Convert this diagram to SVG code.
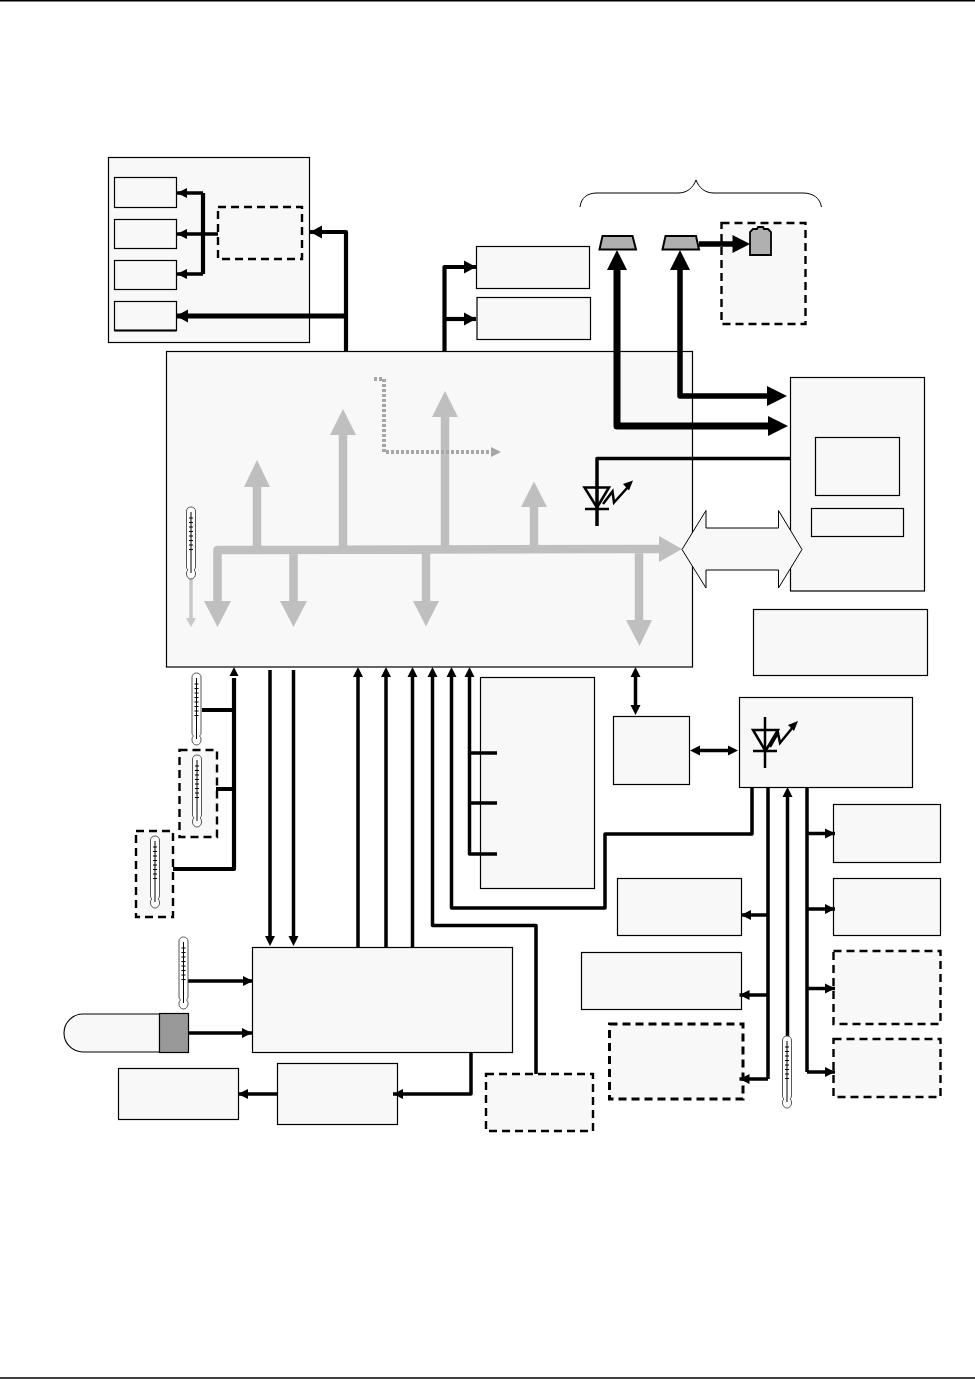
<svg xmlns="http://www.w3.org/2000/svg" width="975" height="1379" viewBox="0 0 975 1379">
<style>
.b{fill:#f8f8f8;stroke:#000;stroke-width:1.2}
.d{fill:#f8f8f8;stroke:#000;stroke-width:2.4;stroke-dasharray:8 5}
.c{fill:none;stroke:#000;stroke-linejoin:round}
.w3{stroke-width:3.5}
.w4{stroke-width:4.2}
.g{fill:none;stroke:#bfbfbf;stroke-width:8.5;stroke-linejoin:round}
.gh{fill:#bfbfbf}
.sym{fill:none;stroke:#000;stroke-width:2.5}
</style>
<defs>
<marker id="a" markerUnits="userSpaceOnUse" markerWidth="12" markerHeight="12" refX="10" refY="6" orient="auto"><path d="M0,1 L10,6 L0,11Z" fill="#000"/></marker>
<marker id="am" markerUnits="userSpaceOnUse" markerWidth="14" markerHeight="16" refX="12" refY="8" orient="auto"><path d="M0,1.500 L12,8 L0,14.500Z" fill="#000"/></marker>
<g id="therm">
<path d="M-4.500,4 a4.500,4 0 0 1 9,0 V60 q0,2 -1.500,3 q1.500,1 1.500,3 v1 a4.500,5 0 0 1 -9,0 v-1 q0,-2 1.500,-3 q-1.500,-1 -1.500,-3Z" fill="#fff" stroke="#444" stroke-width="0.9"/>
<path d="M0,5V66M-2,11h4M-2,15.500h4M-2,20h4M-2,24.500h4M-2,29h4M-2,33.500h4M-2,38h4M-2,42.500h4" fill="none" stroke="#000" stroke-width="1"/>
</g>
</defs>
<rect width="975" height="1379" fill="#fff"/>
<path d="M0,0.700H975M0,1378H975" stroke="#000" stroke-width="1.500"/>

<g id="group-a"><rect class="b" x="108.500" y="157.500" width="201" height="185"/></g>
<g id="a1"><rect class="b" x="114.500" y="177.500" width="62" height="30"/></g>
<g id="a2"><rect class="b" x="114.500" y="219.500" width="62" height="29"/></g>
<g id="a3"><rect class="b" x="114.500" y="260.500" width="62" height="29"/></g>
<g id="a4"><rect class="b" x="114.500" y="301.500" width="62" height="29"/><path d="M114.500,330.500H176.500" stroke="#000" stroke-width="1.800"/></g>
<g id="a5"><rect class="d" x="218" y="207" width="84" height="52"/></g>
<g id="b1"><rect class="b" x="476.500" y="246.500" width="113" height="42"/></g>
<g id="b2"><rect class="b" x="477" y="297.500" width="113.500" height="42"/></g>
<g id="main"><rect class="b" x="166.500" y="351.500" width="526" height="315.500"/></g>
<g id="valve-group"><rect class="d" x="721.500" y="223" width="84" height="101"/></g>
<g id="right"><rect class="b" x="790.500" y="377.500" width="134" height="213.500"/>
<rect class="b" x="815.500" y="437.500" width="84" height="58"/>
<rect class="b" x="811.500" y="508.500" width="92" height="28"/></g>
<g id="note"><rect class="b" x="753.500" y="609.500" width="174" height="66"/></g>
<g id="c1"><rect class="b" x="480.500" y="677.500" width="114" height="211"/></g>
<g id="c2"><rect class="b" x="613.500" y="716.500" width="76" height="68"/></g>
<g id="c3"><rect class="b" x="739.500" y="697.500" width="173" height="90"/></g>
<g id="r1"><rect class="b" x="833.500" y="804.500" width="107" height="58"/></g>
<g id="r2"><rect class="b" x="833.500" y="878.500" width="107" height="57"/></g>
<g id="r3"><rect class="d" x="833.500" y="951" width="107" height="73"/></g>
<g id="r4"><rect class="d" x="833.500" y="1039" width="107" height="58"/></g>
<g id="l1"><rect class="b" x="617.500" y="878.500" width="124" height="57"/></g>
<g id="l2"><rect class="b" x="581.500" y="952.500" width="160" height="57"/></g>
<g id="l3"><rect class="d" style="stroke-width:3" x="609.500" y="1024" width="133.500" height="75"/></g>
<g id="big"><rect class="b" x="252.500" y="947.500" width="260" height="105"/></g>
<g id="e1"><rect class="b" x="118.500" y="1068.500" width="120" height="51"/></g>
<g id="e2"><rect class="b" x="277.500" y="1063.500" width="120" height="61"/></g>
<g id="e3"><rect class="d" x="486" y="1074" width="107" height="57"/></g>
<g id="lamp"><path d="M159.500,1014H83a19,19 0 0 0 0,38h76.500Z" fill="#f8f8f8" stroke="#000" stroke-width="1.100"/>
<rect x="159.500" y="1013.500" width="29" height="39" fill="#999" stroke="#000" stroke-width="1.200"/></g>
<g id="dash-t1"><rect class="d" x="179.500" y="750" width="37.500" height="87"/></g>
<g id="dash-t2"><rect class="d" x="136" y="831" width="37" height="86"/></g>
<g id="brace"><path d="M580,207C581,198 587,193 597,193H678C687,193 693,188 696,180C699,188 705,193 714,193H803C813,193 820,198 821.500,207" fill="none" stroke="#000" stroke-width="1"/></g>

<g id="bus">
<path class="g" d="M217.500,602V550L660,549M293.500,549V602M426,549V602M639,549V621M257,549V486M343,549V434M445,549V416M534,549V507"/>
<path class="gh" d="M682,549L659,536V562ZM204,601H231L217.500,627ZM280,601H307L293.500,627ZM413,601H439L426,626.500ZM626,620H652L639.500,646ZM244,487H270L257,460ZM330,435H356L343,409ZM432,417H458L445,391ZM521,507H547L534,481.500Z"/>
<path d="M191,577V620" stroke="#c8c8c8" stroke-width="3.500" fill="none"/>
<path d="M186,618H196L191,627Z" fill="#c8c8c8"/>
<path d="M374,379H384V452H492" fill="none" stroke="#a6a6a6" stroke-width="4" stroke-dasharray="3 2"/>
<path d="M491,447L501,452L491,457Z" fill="#a6a6a6"/>
</g>

<g id="connectors">
<path class="c w4" d="M203,193V274"/>
<path class="c w3" d="M203,193H177" marker-end="url(#a)"/>
<path class="c w3" d="M218,234H177" marker-end="url(#a)"/>
<path class="c w3" d="M203,274H177" marker-end="url(#a)"/>
<path class="c w4" d="M346,351V232H310" marker-end="url(#am)"/>
<path class="c" stroke-width="4.800" d="M346,316H176" marker-end="url(#am)"/>
<path class="c w4" d="M444.500,351V267H476" marker-end="url(#am)"/>
<path class="c w4" d="M444.500,319H476" marker-end="url(#am)"/>
<path class="c" stroke-width="7" d="M617,270V426H768"/>
<path d="M617,250L607,270H627ZM788,426L768,416V436Z" fill="#000"/>
<path class="c" stroke-width="5.500" d="M680,270V396H768"/>
<path d="M680,250L670,270H690ZM787,396L767,386V406Z" fill="#000"/>
<path class="c" stroke-width="5.500" d="M699,244H733"/>
<path d="M750,244L732.500,235V253Z" fill="#000"/>
<path class="c w3" d="M791,458.500H597V526"/>
<path class="c w4" d="M173,869H234V678M202,710H234M216,789H234"/>
<path d="M234,667L229.500,676H238.500Z" fill="#000"/>
<path class="c w3" d="M270,670V936M293.500,670V936"/>
<path d="M265,936H275L270,946ZM288.500,936H298.500L293.500,946Z" fill="#000"/>
<path class="c w3" d="M358,947V677M386,947V677M412.500,947V677M536,1074V925.500H432.500V677M451.500,677V908H605V834H752V787M469.500,677V854H497M470,753H497M470,803H497"/>
<path d="M358,667L353,677H363ZM386,667L381,677H391ZM412.500,667L407.500,677H417.500ZM432.500,667L427.500,677H437.500ZM451.500,667L446.500,677H456.500ZM469.500,667L464.500,677H474.500Z" fill="#000"/>
<path class="c w3" d="M635.500,675V708"/>
<path d="M635.500,667L630.500,677H640.500ZM635.500,715L630.500,705H640.500Z" fill="#000"/>
<path class="c w3" d="M698,750.500H730"/>
<path d="M690,750.500L700,745.500V755.500ZM738,750.500L728,745.500V755.500Z" fill="#000"/>
<path class="c w3" d="M768,787V1079M807,787V1072"/>
<path class="c w3" d="M768,915H741" marker-end="url(#a)"/>
<path class="c w3" d="M768,995H739.500" marker-end="url(#a)"/>
<path class="c w3" d="M768,1079H739.500" marker-end="url(#a)"/>
<path class="c w3" d="M807,833.500H835" marker-end="url(#a)"/>
<path class="c w3" d="M807,909H835" marker-end="url(#a)"/>
<path class="c w3" d="M807,988.500H835" marker-end="url(#a)"/>
<path class="c w3" d="M807,1072H835" marker-end="url(#a)"/>
<path class="c w3" d="M787.500,1040V797"/>
<path d="M787.500,787L782.500,797H792.500Z" fill="#000"/>
<path class="c w3" d="M188,981H253" marker-end="url(#a)"/>
<path class="c w3" d="M188,1033H252" marker-end="url(#a)"/>
<path class="c w3" d="M471,1052V1094H393" marker-end="url(#a)"/>
<path class="c w3" d="M277,1094H238" marker-end="url(#a)"/>
</g>

<g id="double-arrow"><path d="M682,549.500L706,510.500V528H778.500V510.500L802,549.500L778.500,588V570H706V588Z" fill="#f8f8f8" stroke="#000" stroke-width="1"/></g>
<g id="valve1"><path d="M599.500,249.500L602.500,236H632.500L636,249.500Z" fill="#b0b0b0" stroke="#000" stroke-width="2"/></g>
<g id="valve2"><path d="M662.500,249.500L665.500,236H696L699,249.500Z" fill="#b0b0b0" stroke="#000" stroke-width="2"/></g>
<g id="battery"><path d="M750,255V232L753,229H757L758,227H763L764,229H768L771,232V255Z" fill="#b0b0b0" stroke="#000" stroke-width="1.800"/></g>
<g id="led1"><path class="sym" d="M584.500,487.500H609L597,507.500ZM585,509H609"/><path class="sym" d="M603,504L612.500,491.500L614,502.500L628,487"/><path d="M633,480.500L623,484L629,490.500Z" fill="#000"/></g>
<g id="led2"><path class="sym" d="M753,730H778L765.500,751ZM753,751H777M765,717V768"/><path class="sym" d="M770,747L778,733L780,743L793,727"/><path d="M798,721L788,725L794,731Z" fill="#000"/></g>
<g id="t1"><use href="#therm" x="191" y="507"/></g>
<g id="t2"><use href="#therm" x="196.500" y="673"/></g>
<g id="t3"><use href="#therm" x="197" y="755"/></g>
<g id="t4"><use href="#therm" x="155" y="836"/></g>
<g id="t5"><use href="#therm" x="183.500" y="937"/></g>
<g id="t6"><use href="#therm" x="787" y="1036"/></g>
</svg>
